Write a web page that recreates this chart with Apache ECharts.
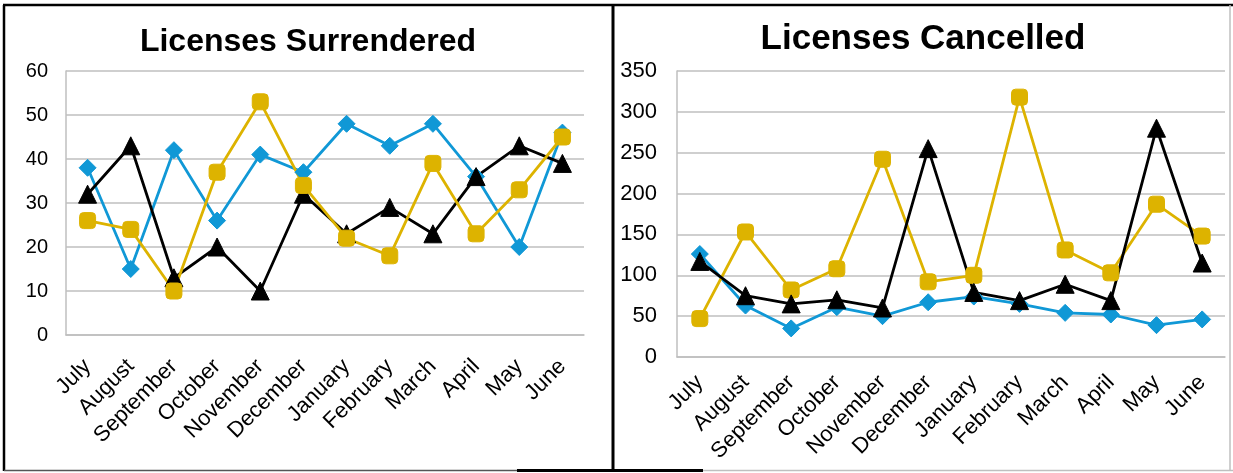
<!DOCTYPE html>
<html>
<head>
<meta charset="utf-8">
<style>
  html, body { margin: 0; padding: 0; background: #fff; }
  #chart { width: 1233px; height: 473px; }
</style>
<script src="https://cdn.jsdelivr.net/npm/echarts@6/dist/echarts.min.js"></script>
</head>
<body>
<div id="chart"></div>
<script>
// Monthly licence counts, fiscal year July–June
const months = ['July', 'August', 'September', 'October', 'November', 'December',
                'January', 'February', 'March', 'April', 'May', 'June'];

// Licenses surrendered
const surrenderedBlue   = [38, 15, 42, 26, 41, 37, 48, 43, 48, 36, 20, 46];
const surrenderedGold   = [26, 24, 10, 37, 53, 34, 22, 18, 39, 23, 33, 45];
const surrenderedBlack  = [32, 43, 13, 20, 10, 32, 23, 29, 23, 36, 43, 39];

// Licenses cancelled
const cancelledBlue  = [126, 63, 35, 61, 50, 67, 74, 65, 54, 52, 39, 46];
const cancelledGold  = [47, 153, 82, 108, 242, 92, 100, 318, 131, 103, 187, 148];
const cancelledBlack = [117, 75, 65, 70, 60, 255, 79, 69, 89, 69, 280, 115];

const surrenderedTicks = { min: 0, max: 60, interval: 10 };
const cancelledTicks   = { min: 0, max: 350, interval: 50 };

const BLUE = '#1098D6';
const GOLD = '#DDB300';
const BLACK = '#000000';
const FONT = 'Liberation Sans, Arial, sans-serif';

const chart = echarts.init(document.getElementById('chart'), null, { renderer: 'canvas' });

function xAxis(gridIndex, fontSize, margin) {
  return {
    type: 'category', gridIndex, data: months, boundaryGap: true,
    axisLine: { show: true, lineStyle: { color: '#BFBFBF', width: 1.5 } },
    axisTick: { show: false },
    axisLabel: { rotate: 45, interval: 0, color: '#000', fontFamily: FONT, fontSize, margin },
    splitLine: { show: false }
  };
}
function yAxis(gridIndex, t, fontSize, margin) {
  return {
    type: 'value', gridIndex, min: t.min, max: t.max, interval: t.interval,
    axisLine: { show: true, lineStyle: { color: '#BFBFBF', width: 1.5 } },
    axisTick: { show: false },
    axisLabel: { color: '#000', fontFamily: FONT, fontSize, margin },
    splitLine: { show: true, lineStyle: { color: '#BFBFBF', width: 1.5 } }
  };
}
function series(idx, data, color, symbol, size) {
  return {
    type: 'line', xAxisIndex: idx, yAxisIndex: idx, data,
    symbol, symbolSize: size, showSymbol: true,
    lineStyle: { color, width: 2.8 },
    itemStyle: { color, borderColor: color, borderWidth: 1 },
    animation: false, z: 3
  };
}

chart.setOption({
  backgroundColor: '#fff',
  animation: false,
  title: [
    { text: 'Licenses Surrendered', left: 303, top: 21, textAlign: 'center',
      textStyle: { fontFamily: FONT, fontWeight: 'bold', fontSize: 32, color: '#000' } },
    { text: 'Licenses Cancelled', left: 918, top: 17, textAlign: 'center',
      textStyle: { fontFamily: FONT, fontWeight: 'bold', fontSize: 35, color: '#000' } }
  ],
  grid: [
    { left: 66, right: 649, top: 71, bottom: 138, containLabel: false },
    { left: 677, right: 8, top: 71, bottom: 116, containLabel: false }
  ],
  xAxis: [xAxis(0, 22, 28), xAxis(1, 22, 22)],
  yAxis: [yAxis(0, surrenderedTicks, 20, 18), yAxis(1, cancelledTicks, 22, 20)],
  series: [
    series(0, surrenderedBlue, BLUE, 'diamond', 17),
    series(0, surrenderedBlack, BLACK, 'triangle', 18),
    series(0, surrenderedGold, GOLD, 'roundRect', 16),
    series(1, cancelledBlue, BLUE, 'diamond', 17),
    series(1, cancelledGold, GOLD, 'roundRect', 16),
    series(1, cancelledBlack, BLACK, 'triangle', 18)
  ],
  graphic: [
    // panel frames
    { type: 'line', shape: { x1: 3, y1: 5, x2: 1233, y2: 5 }, style: { stroke: '#000', lineWidth: 2.5 } },
    { type: 'line', shape: { x1: 4, y1: 5, x2: 4, y2: 471 }, style: { stroke: '#000', lineWidth: 2.5 } },
    { type: 'line', shape: { x1: 613, y1: 5, x2: 613, y2: 471 }, style: { stroke: '#000', lineWidth: 3 } },
    { type: 'line', shape: { x1: 4, y1: 470.5, x2: 517, y2: 470.5 }, style: { stroke: '#555', lineWidth: 1.5 } },
    { type: 'line', shape: { x1: 517, y1: 470.5, x2: 703, y2: 470.5 }, style: { stroke: '#000', lineWidth: 3 } },
    { type: 'line', shape: { x1: 703, y1: 470.5, x2: 1233, y2: 470.5 }, style: { stroke: '#BFBFBF', lineWidth: 1.5 } },
    { type: 'line', shape: { x1: 1230, y1: 5, x2: 1230, y2: 471 }, style: { stroke: '#BFBFBF', lineWidth: 1.5 } }
  ]
});
</script>
</body>
</html>
